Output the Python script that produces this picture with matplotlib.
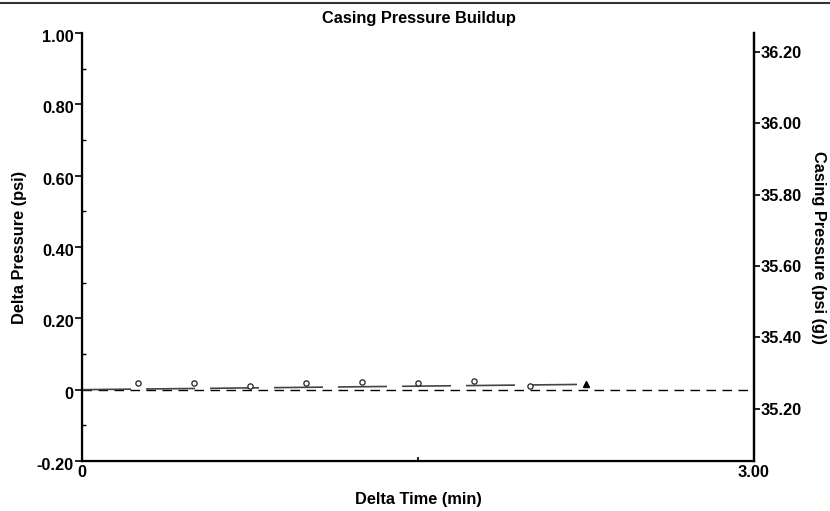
import numpy as np
import matplotlib as mpl

mpl.use('Agg')
import matplotlib.pyplot as plt
import matplotlib.transforms as mtransforms
from matplotlib.ticker import FixedLocator, FuncFormatter

plt.rcParams['font.family'] = ['Liberation Sans', 'DejaVu Sans']
plt.rcParams['font.weight'] = 'bold'

# readings (delta time in min, delta pressure in psi)
sample_time = [0.25, 0.50, 0.75, 1.00, 1.25, 1.50, 1.75, 2.00]
sample_delta = [0.018, 0.018, 0.010, 0.020, 0.021, 0.019, 0.024, 0.011]
last_time = [2.25]
last_delta = [0.015]

# trend line
fit_time = [0.0, 2.21]
fit_delta = [0.0, 0.0146]

# casing pressure at delta = 0
base_pressure = 35.253

left_ticks = [-0.2, 0.0, 0.2, 0.4, 0.6, 0.8, 1.0]
right_ticks = [35.2, 35.4, 35.6, 35.8, 36.0, 36.2]
x_ticks = [0.0, 3.0]

px = 72 / 100  # points per pixel at dpi 100
fs = 11.8

fig = plt.figure(figsize=(8.3, 5.11), dpi=100)
ax = fig.add_axes([82 / 830, 1 - 461 / 511, 672 / 830, 428 / 511])

# zero reference line
ax.plot([0, 3], [0, 0], color='black', lw=1.0,
        linestyle=(0, (9.5 * px, 6.5 * px)))
ax.plot(fit_time, fit_delta, color='#444444', lw=1.2,
        linestyle=(0, (49 * px / 1.2, 15 * px / 1.2)))
ax.plot(sample_time, sample_delta, linestyle='none', marker='o', ms=3.8,
        mfc='white', mec='#222222', mew=0.9)
ax.plot(last_time, last_delta, linestyle='none', marker='^', ms=4.5,
        color='black')

ax.set_xlim(0, 3)
ax.set_ylim(-0.2, 1.0)

for s in ['left', 'right', 'bottom']:
    ax.spines[s].set_linewidth(1.6)
ax.spines['top'].set_visible(False)

ax.xaxis.set_major_locator(FixedLocator(x_ticks))
ax.xaxis.set_major_formatter(FuncFormatter(lambda v, p: '0' if v == 0 else f'{v:.2f}'))
ax.xaxis.set_minor_locator(FixedLocator([1.5]))
ax.tick_params(axis='x', which='major', length=0, pad=3, labelsize=fs)
ax.tick_params(axis='x', which='minor', direction='in', length=3, width=1.2)

ax.yaxis.set_major_locator(FixedLocator(left_ticks))
ax.yaxis.set_major_formatter(FuncFormatter(lambda v, p: '0' if abs(v) < 1e-9 else f'{v:.2f}'))
ax.yaxis.set_minor_locator(FixedLocator([-0.1, 0.1, 0.3, 0.5, 0.7, 0.9]))
ax.tick_params(axis='y', which='major', direction='out', length=5, width=1.2,
               pad=1, labelsize=fs)
ax.tick_params(axis='y', which='minor', direction='in', length=3, width=1.0)

# left tick labels sit a little below their ticks
shift = mtransforms.ScaledTranslation(0, -3 / 100, fig.dpi_scale_trans)
for lab in ax.get_yticklabels():
    lab.set_transform(lab.get_transform() + shift)

ax.set_xlabel('Delta Time (min)', fontsize=fs, fontweight='bold', va='center')
ax.xaxis.set_label_coords(0.5, (461 - 499) / 428)
ax.set_ylabel('Delta Pressure (psi)', fontsize=fs, fontweight='bold', va='center')
ax.yaxis.set_label_coords((20 - 82) / 672, 0.5)

ax2 = ax.twinx()
ax2.set_ylim(-0.2 + base_pressure, 1.0 + base_pressure)
ax2.yaxis.set_major_locator(FixedLocator(right_ticks))
ax2.yaxis.set_major_formatter(FuncFormatter(lambda v, p: f'{v:.2f}'))
ax2.tick_params(axis='y', direction='out', length=4, width=1.2, pad=1, labelsize=fs)
ax2.spines['top'].set_visible(False)
ax2.spines['right'].set_linewidth(1.6)
ax2.set_ylabel('Casing Pressure (psi (g))', fontsize=fs, fontweight='bold',
               rotation=-90, va='center')
ax2.yaxis.set_label_coords((818 - 82) / 672, 0.5)

fig.text(419 / 830, 1 - 23 / 511, 'Casing Pressure Buildup', ha='center',
         va='baseline', fontsize=fs, fontweight='bold')
fig.add_artist(plt.Line2D([0, 1], [1 - 3 / 511, 1 - 3 / 511], color='#333333',
                          lw=1.5, transform=fig.transFigure))

fig.savefig('out.png', dpi=100)
